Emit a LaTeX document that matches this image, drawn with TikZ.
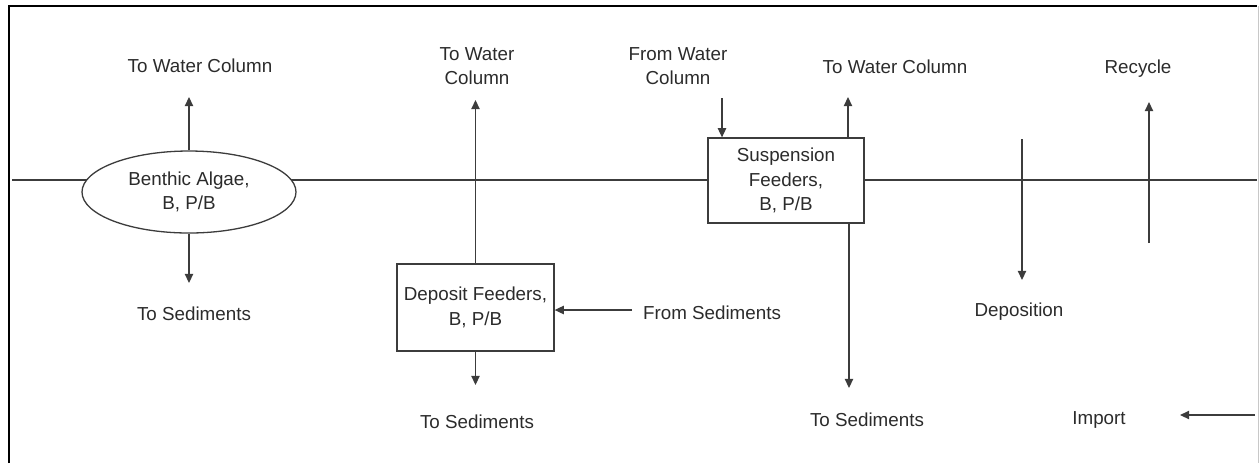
\documentclass[tikz,border=0pt]{standalone}
\usepackage{fontspec}
\setmainfont{Liberation Sans}
\usetikzlibrary{arrows.meta,shapes.geometric}
\definecolor{Ink}{HTML}{2B2B2B}
\definecolor{Rule}{HTML}{3C3C3C}
\definecolor{Edge}{HTML}{C8C8C8}

\tikzset{
  lbl/.style={text=Ink,align=center,inner sep=0pt,font=\fontsize{9.4}{12.3}\selectfont},
  pool/.style={lbl,draw=Rule,fill=white,line width=.65pt,rectangle},
  flow/.style={draw=Rule,line width=.6pt,-{Triangle[length=4.6pt,width=4.2pt]}}
}

\begin{document}
\begin{tikzpicture}[x=.5pt,y=-.5pt]
        \useasboundingbox (0,0) rectangle (1259,463);
        % frame and sediment-water interface
        \draw[line width=1.3pt] (9,463)--(9,6)--(1257,6);
        \draw[Edge,line width=.5pt] (1258,6)--(1258,463);
        \draw[Rule,line width=.6pt] (12,180)--(1257,180);
        % compartments
        \node[pool,ellipse,minimum width=107pt,minimum height=41pt] (algae) at (189,192){Benthic Algae,\\B, P/B};
        \node[pool,minimum width=78.5pt,minimum height=43.5pt] (deposit) at (475.5,307.5){Deposit Feeders,\\B, P/B};
        \node[pool,minimum width=78pt,minimum height=42.5pt] (susp) at (786,180.5){Suspension\\Feeders,\\B, P/B};
        % labels
        \node[lbl] (algaeup) at (200,66){To Water Column};
        \node[lbl] (algaedn) at (194,314){To Sediments};
        \node[lbl] (depup) at (477,66){To Water\\Column};
        \node[lbl] (depdn) at (477,422){To Sediments};
        \node[lbl] (fromsed) at (712,313){From Sediments};
        \node[lbl] (fromwat) at (678,66){From Water\\Column};
        \node[lbl] (suspup) at (895,67){To Water Column};
        \node[lbl] (suspdn) at (867,420){To Sediments};
        \node[lbl] (depos) at (1019,312){Deposition};
        \node[lbl] (recyc) at (1138,69){Recycle};
        \node[lbl] (import) at (1099,420){Import};
        % free ends
        \coordinate (a1) at (algae.north |- 0,97);
        \coordinate (a2) at (algae.south |- 0,283);
        \coordinate (d1) at (deposit.north |- 0,100);
        \coordinate (d2) at (deposit.south |- 0,385);
        \coordinate (d3) at (632,310);
        \coordinate (s0) at (722,98);
        \coordinate (s1) at (848,97);
        \coordinate (s2) at (849,388);
        \coordinate (p0) at (1022,139);
        \coordinate (p1) at (1022,280);
        \coordinate (r0) at (1149,243);
        \coordinate (r1) at (1149,102);
        \coordinate (i0) at (1255,415);
        \coordinate (i1) at (1180,415);
        % flows
        \draw[flow] (algae.north)--(a1);
        \draw[flow] (algae.south)--(a2);
        \draw[flow] (deposit.north)--(d1);
        \draw[flow] (deposit.south)--(d2);
        \draw[flow] (d3)--(deposit.east |- d3);
        \draw[flow] (s0)--(s0 |- susp.north);
        \draw[flow] (s1 |- susp.north)--(s1);
        \draw[flow] (s2 |- susp.south)--(s2);
        \draw[flow] (p0)--(p1);
        \draw[flow] (r0)--(r1);
        \draw[flow] (i0)--(i1);
      \end{tikzpicture}
\end{document}
